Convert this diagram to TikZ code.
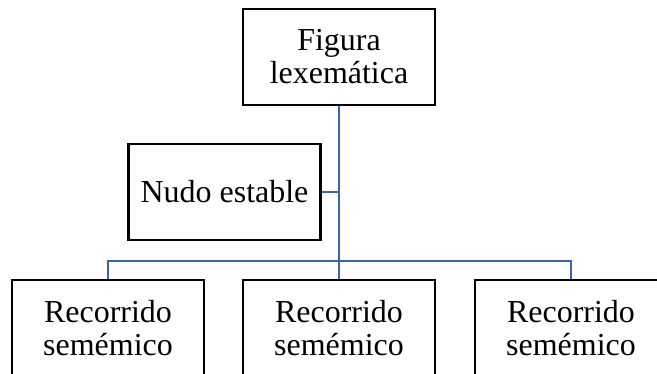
\documentclass[tikz,border=0pt]{standalone}
\usepackage{fontspec}
\setmainfont{Liberation Serif}
\usepackage{xcolor}
\definecolor{linkblue}{RGB}{60, 98, 170}
\usetikzlibrary{positioning, calc}

\begin{document}
\begin{tikzpicture}[
    x=0.02cm, y=-0.02cm,
    box/.style={rectangle, draw=black, line width=1.5pt, fill=white,
                minimum width=3.84cm, minimum height=1.92cm, inner sep=0pt,
                align=center, font=\fontsize{18.2}{18.8}\selectfont},
    link/.style={draw=linkblue, line width=1.5pt}
]
    \useasboundingbox (0,0) rectangle (657,374);
    \clip (0,0) rectangle (657,374);

    % Boxes
    \node[box] (figura) at (339,57) {Figura\\lexemática};
    \node[box] (nudo) at (224.5,192) {Nudo estable};
    \node[box] (reca) at (108,328) {Recorrido\\semémico};
    \node[box] (recb) at (339,328) {Recorrido\\semémico};
    \node[box] (recc) at (571,328) {Recorrido\\semémico};
    \coordinate (bus) at (0,261);

    % Connectors
    \draw[link] (figura.south) -- (recb.north);
    \draw[link] (nudo.east) -- (nudo.east -| figura.south);
    \draw[link] (reca.north) |- (bus -| recc.north) -- (recc.north);
\end{tikzpicture}
\end{document}
